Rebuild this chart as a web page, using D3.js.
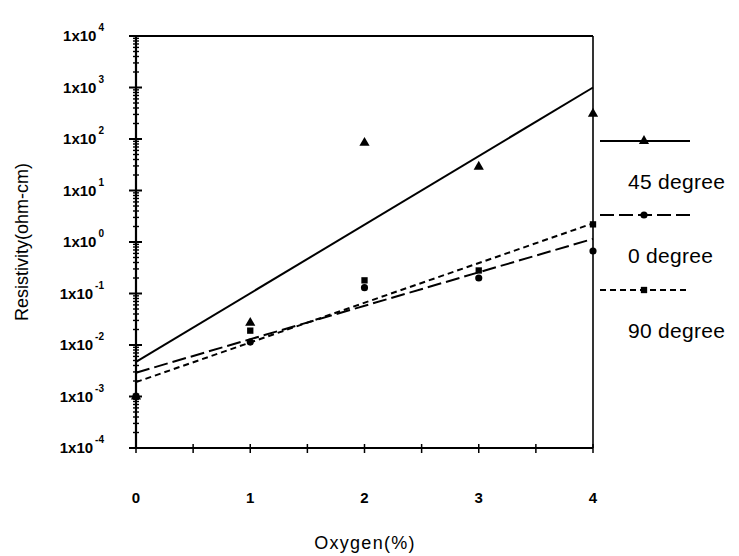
<!DOCTYPE html>
<html><head><meta charset="utf-8">
<script src="https://cdn.jsdelivr.net/npm/d3@7"></script>
<style>body{margin:0;background:#fff}svg{display:block}</style>
</head><body>
<script>
const oxygen = [0, 1, 2, 3, 4];
const deg45 = [0.001, 0.027, 84, 29, 310];
const deg0 = [0.001, 0.0114, 0.13, 0.2, 0.67];
const deg90 = [0.001, 0.019, 0.18, 0.28, 2.2];
const fitX = [0, 4];
const fit45 = [0.0047, 1000];
const fit0 = [0.0029, 1.15];
const fit90 = [0.0019, 2.3];
const yExponents = [4, 3, 2, 1, 0, -1, -2, -3, -4];
const xTicks = [0, 1, 2, 3, 4];
const seriesNames = ["45 degree", "0 degree", "90 degree"];

const W = 739, H = 556;
const m = {left: 136, right: 593, top: 36, bottom: 448};
const svg = d3.select("body").append("svg").attr("width", W).attr("height", H);
const x = d3.scaleLinear().domain([0, 4]).range([m.left, m.right]);
const y = d3.scaleLog().domain([1e-4, 1e4]).range([m.bottom, m.top]);
const font = "'Liberation Sans', Arial, sans-serif";

// frame
svg.append("line").attr("x1", m.left).attr("x2", m.right).attr("y1", m.top).attr("y2", m.top)
  .attr("stroke", "#000").attr("stroke-width", 2.2);
svg.append("line").attr("x1", m.right).attr("x2", m.right).attr("y1", m.top).attr("y2", m.bottom)
  .attr("stroke", "#000").attr("stroke-width", 1.6);

// y axis
const yg = svg.append("g").attr("transform", `translate(${m.left},0)`);
yg.append("line").attr("y1", m.top).attr("y2", m.bottom).attr("stroke", "#000").attr("stroke-width", 2.2);
const minor = [];
for (let e = -4; e < 4; e++) for (let k = 2; k <= 9; k++) minor.push(k * Math.pow(10, e));
yg.selectAll(".mn").data(minor).join("line")
  .attr("x1", -3).attr("x2", 3).attr("y1", d => y(d)).attr("y2", d => y(d))
  .attr("stroke", "#000").attr("stroke-width", 1.4);
yg.selectAll(".mj").data(yExponents).join("line")
  .attr("x1", -7).attr("x2", 6).attr("y1", d => y(Math.pow(10, d))).attr("y2", d => y(Math.pow(10, d)))
  .attr("stroke", "#000").attr("stroke-width", 2);
const yl = yg.selectAll(".yl").data(yExponents).join("text")
  .attr("x", -32).attr("y", d => y(Math.pow(10, d)) + 5)
  .attr("text-anchor", "end").attr("font-family", font).attr("font-size", 15).attr("font-weight", "bold");
yl.append("tspan").text("1x10");
yl.append("tspan").attr("dx", 2).attr("dy", -10).attr("font-size", 10).text(d => d);

// x axis
const xg = svg.append("g").attr("transform", `translate(0,${m.bottom})`);
xg.append("line").attr("x1", m.left).attr("x2", m.right).attr("stroke", "#000").attr("stroke-width", 2.2);
const xMinor = d3.range(0, 4.01, 0.5);
xg.selectAll(".xt").data(xMinor).join("line")
  .attr("x1", d => x(d)).attr("x2", d => x(d)).attr("y1", -4).attr("y2", 5)
  .attr("stroke", "#000").attr("stroke-width", 1.5);
xg.selectAll(".xl").data(xTicks).join("text")
  .attr("x", d => x(d)).attr("y", 55).attr("text-anchor", "middle")
  .attr("font-family", font).attr("font-size", 15).attr("font-weight", "bold").text(d => d);

// titles
svg.append("text").attr("x", 365).attr("y", 549).attr("text-anchor", "middle")
  .attr("font-family", font).attr("font-size", 18).attr("letter-spacing", 1.3).text("Oxygen(%)");
svg.append("text").attr("transform", "translate(28,242) rotate(-90)").attr("text-anchor", "middle")
  .attr("font-family", font).attr("font-size", 18).text("Resistivity(ohm-cm)");

// fit lines
const line = d3.line().x(d => x(d[0])).y(d => y(d[1]));
const dashes = [null, "14,5", "6,4"];
const fits = [fit45, fit0, fit90];
fits.forEach((f, i) => {
  svg.append("path").attr("d", line(fitX.map((v, j) => [v, f[j]])))
    .attr("fill", "none").attr("stroke", "#000").attr("stroke-width", 2)
    .attr("stroke-dasharray", dashes[i]);
});

// markers
const sym = [d3.symbolTriangle, d3.symbolCircle, d3.symbolSquare];
const sizes = [45, 40, 40];
[deg45, deg0, deg90].forEach((s, i) => {
  svg.selectAll(".p" + i).data(oxygen).join("path")
    .attr("transform", (d, j) => `translate(${x(d)},${y(s[j])})`)
    .attr("d", d3.symbol().type(sym[i]).size(sizes[i])).attr("fill", "#000");
});

// legend
const legY = [141, 215, 290];
const lg = svg.append("g");
seriesNames.forEach((n, i) => {
  lg.append("line").attr("x1", 600).attr("x2", 690).attr("y1", legY[i]).attr("y2", legY[i])
    .attr("stroke", "#000").attr("stroke-width", 2).attr("stroke-dasharray", dashes[i]);
  lg.append("path").attr("transform", `translate(644,${legY[i]})`)
    .attr("d", d3.symbol().type(sym[i]).size(sizes[i])).attr("fill", "#000");
  lg.append("text").attr("x", 628).attr("y", legY[i] + 48).attr("font-family", font)
    .attr("font-size", 21).attr("letter-spacing", 0.3).text(n);
});
</script>
</body></html>
